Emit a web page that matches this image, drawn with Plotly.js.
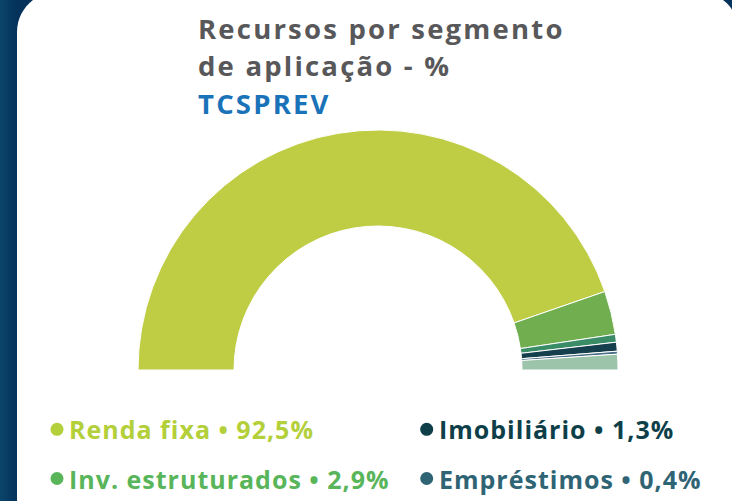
<!DOCTYPE html>
<html><head><meta charset="utf-8">
<script src="https://cdn.plot.ly/plotly-3.0.1.min.js"></script>
<style>
html,body{margin:0;padding:0;width:732px;height:501px;overflow:hidden;background:linear-gradient(to right,#0c456a 0px,#04325a 17px,#04325a 100%);}
#chart{width:732px;height:740px;}
</style></head><body><div id="chart"></div>
<script>
// ---- data ----
const sliceLabels = ['Renda fixa', 'Inv. estruturados', 'Outro segmento', 'Imobiliário', 'Empréstimos', 'Demais segmentos'];
const sliceValues = [89.4, 5.85, 1.05, 1.2, 0.4, 2.1];   // share of the half-ring drawn
const legendNames = ['Renda fixa', 'Inv. estruturados', 'Imobiliário', 'Empréstimos'];
const legendValues = ['92,5%', '2,9%', '1,3%', '0,4%'];
const titleLines = ['Recursos por segmento', 'de aplicação - %', 'TCSPREV'];

// ---- style ----
const sliceColors = ['#bfcd45', '#70ae50', '#3a8c66', '#163f4d', '#4a6e85', '#9cc4aa'];
const legendColors = ['#b3cf3a', '#59b55a', '#0e3f49', '#2f6475'];
const W = 732, H = 740;
const X = p => p / W, Y = p => 1 - p / H;
const FONT = "'Open Sans', 'Noto Sans', sans-serif";

const total = sliceValues.reduce((a, b) => a + b, 0);

const trace = {
  type: 'pie',
  labels: sliceLabels.concat(['']),
  values: sliceValues.concat([total]),
  sort: false,
  direction: 'clockwise',
  rotation: 270,
  hole: 0.6,
  textinfo: 'none',
  hoverinfo: 'skip',
  showlegend: false,
  marker: {
    colors: sliceColors.concat(['rgba(0,0,0,0)']),
    line: {color: sliceColors.map(() => '#ffffff').concat(['rgba(0,0,0,0)']), width: 1}
  },
  domain: {x: [X(138), X(618)], y: [Y(610), Y(130)]}
};

// card with rounded top corners
const r = 40, k = 0.5523 * r, L = 17, T = -8, R = 739, B = 760;
const cardPath = [
  `M ${X(L)},${Y(B)}`,
  `L ${X(L)},${Y(T + r)}`,
  `C ${X(L)},${Y(T + r - k)} ${X(L + r - k)},${Y(T)} ${X(L + r)},${Y(T)}`,
  `L ${X(R - r)},${Y(T)}`,
  `C ${X(R - r + k)},${Y(T)} ${X(R)},${Y(T + r - k)} ${X(R)},${Y(T + r)}`,
  `L ${X(R)},${Y(B)} Z`
].join(' ');

const shapes = [{type: 'path', xref: 'paper', yref: 'paper', path: cardPath,
  fillcolor: '#ffffff', line: {width: 0}, layer: 'below'}];

const annotations = [];
// title lines
const titleBase = [39.3, 76.6, 114];
const titleColors = ['#58585a', '#58585a', '#1a72b9'];
const tSize = 27.5;
titleLines.forEach((t, i) => {
  annotations.push({xref: 'paper', yref: 'paper', x: X(195.5), y: Y(titleBase[i] - 0.388 * tSize),
    xanchor: 'left', yanchor: 'middle', showarrow: false,
    text: '<span style="letter-spacing:2.2px">' + t + '</span>',
    font: {family: FONT, size: tSize, color: titleColors[i], weight: 700}});
});

// legend
const lSize = 25;
const legPos = [
  {dx: 57, tx: 66.5, base: 438.5, dy: 429.3},
  {dx: 57, tx: 66.5, base: 488.5, dy: 478.5},
  {dx: 426.7, tx: 436.5, base: 438.5, dy: 429.3},
  {dx: 426.7, tx: 436.5, base: 488.5, dy: 478.5}
];
legendNames.forEach((n, i) => {
  const p = legPos[i];
  const rad = 6.5;
  shapes.push({type: 'circle', xref: 'paper', yref: 'paper',
    x0: X(p.dx - rad), x1: X(p.dx + rad), y0: Y(p.dy + rad), y1: Y(p.dy - rad),
    fillcolor: legendColors[i], line: {width: 0}, layer: 'above'});
  annotations.push({xref: 'paper', yref: 'paper', x: X(p.tx), y: Y(p.base - 0.388 * lSize),
    xanchor: 'left', yanchor: 'middle', showarrow: false,
    text: '<span style="letter-spacing:1px">' + n + ' • ' + legendValues[i] + '</span>',
    font: {family: FONT, size: lSize, color: legendColors[i], weight: 700}});
});

const layout = {
  width: W, height: H,
  margin: {l: 0, r: 0, t: 0, b: 0},
  paper_bgcolor: 'rgba(0,0,0,0)',
  plot_bgcolor: 'rgba(0,0,0,0)',
  showlegend: false,
  shapes: shapes,
  annotations: annotations
};

Plotly.newPlot('chart', [trace], layout, {staticPlot: true, displayModeBar: false});
</script>
</body></html>
